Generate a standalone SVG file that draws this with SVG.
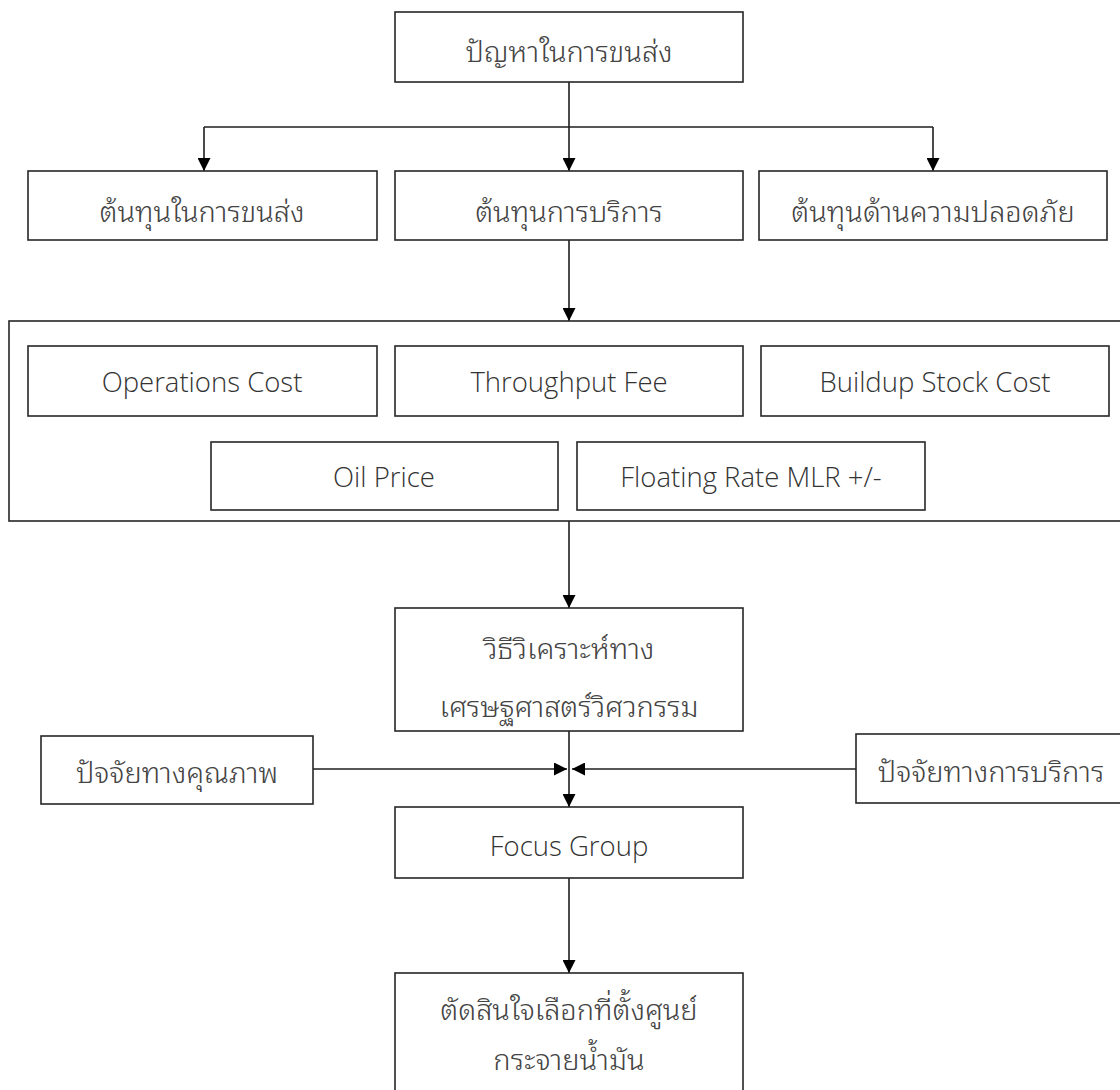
<svg xmlns="http://www.w3.org/2000/svg" width="1120" height="1090" viewBox="0 0 1120 1090">
  <style>
    .box { fill: #ffffff; stroke: #262626; stroke-width: 1.6; }
    .frame { fill: none; stroke: #262626; stroke-width: 1.6; }
    .th { font-family: "Noto Sans Thai Looped", "Noto Sans Thai", "Loma", "Garuda", "Tahoma", "Leelawadee", "Noto Sans", "DejaVu Sans", sans-serif; font-size: 29px; font-weight: 300; fill: #444444; text-anchor: middle; }
    .en { font-family: "Open Sans", "Noto Sans", "Liberation Sans", sans-serif; font-size: 27.5px; font-weight: 300; fill: #333333; text-anchor: middle; }
    .link { fill: none; stroke: #1e1e1e; stroke-width: 1.6; }
  </style>
  <defs>
    <marker id="arrow" viewBox="0 0 13 13" markerWidth="13" markerHeight="13" refX="13" refY="6.5" orient="auto" markerUnits="userSpaceOnUse">
      <path d="M0,0 L13,6.5 L0,13 z" fill="#000000"/>
    </marker>
  </defs>

  <rect width="1120" height="1090" fill="#ffffff"/>

  <!-- connectors -->
  <g id="connectors">
    <path class="link" d="M569,82 V171" marker-end="url(#arrow)"/>
    <path class="link" d="M204,127 H933"/>
    <path class="link" d="M204,127 V171" marker-end="url(#arrow)"/>
    <path class="link" d="M933,127 V171" marker-end="url(#arrow)"/>
    <path class="link" d="M569,240 V321" marker-end="url(#arrow)"/>
    <path class="link" d="M569,521 V608" marker-end="url(#arrow)"/>
    <path class="link" d="M569,731 V807" marker-end="url(#arrow)"/>
    <path class="link" d="M313,769 H567" marker-end="url(#arrow)"/>
    <path class="link" d="M856,769 H572" marker-end="url(#arrow)"/>
    <path class="link" d="M569,878 V973" marker-end="url(#arrow)"/>
  </g>

  <!-- root problem -->
  <g id="problem">
    <rect class="box" x="395" y="12" width="348" height="70"/>
    <text class="th" x="569" y="62">ปัญหาในการขนส่ง</text>
  </g>

  <!-- cost categories -->
  <g id="cost-transport">
    <rect class="box" x="28" y="171" width="349" height="69"/>
    <text class="th" x="202" y="222">ต้นทุนในการขนส่ง</text>
  </g>
  <g id="cost-service">
    <rect class="box" x="395" y="171" width="348" height="69"/>
    <text class="th" x="569" y="222">ต้นทุนการบริการ</text>
  </g>
  <g id="cost-safety">
    <rect class="box" x="759" y="171" width="348" height="69"/>
    <text class="th" x="933" y="222">ต้นทุนด้านความปลอดภัย</text>
  </g>

  <!-- service cost components -->
  <g id="service-components">
    <rect class="frame" x="9" y="321" width="1125" height="200"/>
    <g id="operations-cost">
      <rect class="box" x="28" y="346" width="349" height="70"/>
      <text class="en" x="202" y="392">Operations Cost</text>
    </g>
    <g id="throughput-fee">
      <rect class="box" x="395" y="346" width="348" height="70"/>
      <text class="en" x="569" y="392">Throughput Fee</text>
    </g>
    <g id="buildup-stock-cost">
      <rect class="box" x="761" y="346" width="348" height="70"/>
      <text class="en" x="935" y="392">Buildup Stock Cost</text>
    </g>
    <g id="oil-price">
      <rect class="box" x="211" y="442" width="347" height="68"/>
      <text class="en" x="384" y="487">Oil Price</text>
    </g>
    <g id="floating-rate">
      <rect class="box" x="577" y="442" width="348" height="68"/>
      <text class="en" x="751" y="487">Floating Rate MLR +/-</text>
    </g>
  </g>

  <!-- analysis -->
  <g id="engineering-economy">
    <rect class="box" x="395" y="608" width="348" height="123"/>
    <text class="th" x="569" y="659">วิธีวิเคราะห์ทาง</text>
    <text class="th" x="569" y="717">เศรษฐศาสตร์วิศวกรรม</text>
  </g>

  <!-- side factors -->
  <g id="quality-factors">
    <rect class="box" x="41" y="736" width="272" height="68"/>
    <text class="th" x="177" y="783">ปัจจัยทางคุณภาพ</text>
  </g>
  <g id="service-factors">
    <rect class="box" x="856" y="734" width="280" height="69"/>
    <text class="th" x="991" y="782">ปัจจัยทางการบริการ</text>
  </g>

  <!-- focus group -->
  <g id="focus-group">
    <rect class="box" x="395" y="807" width="348" height="71"/>
    <text class="en" x="569" y="856">Focus Group</text>
  </g>

  <!-- decision -->
  <g id="decision">
    <rect class="box" x="395" y="973" width="348" height="130"/>
    <text class="th" x="569" y="1020">ตัดสินใจเลือกที่ตั้งศูนย์</text>
    <text class="th" x="569" y="1070">กระจายน้ำมัน</text>
  </g>
</svg>
